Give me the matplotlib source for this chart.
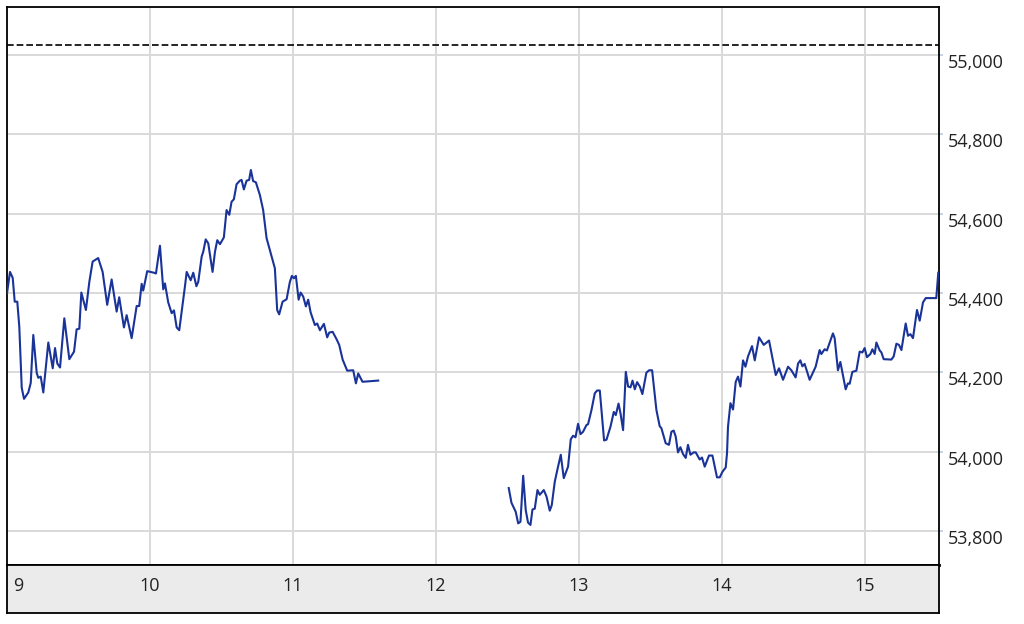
import matplotlib
matplotlib.use("Agg")
import matplotlib.pyplot as plt
from matplotlib.transforms import ScaledTranslation

plt.rcParams['font.family'] = ['Open Sans', 'DejaVu Sans']

# ---- data -------------------------------------------------------------
days1 = [9.000, 9.021, 9.040, 9.054, 9.072, 9.086, 9.103, 9.119, 9.149, 9.166,
         9.184, 9.208, 9.219, 9.236, 9.254, 9.289, 9.320, 9.336, 9.352, 9.371,
         9.401, 9.436, 9.469, 9.487, 9.506, 9.520, 9.552, 9.576, 9.599, 9.638,
         9.669, 9.701, 9.732, 9.767, 9.785, 9.818, 9.837, 9.872, 9.907, 9.925,
         9.942, 9.953, 9.981, 10.028, 10.042, 10.070, 10.093, 10.105, 10.128, 10.152,
         10.168, 10.187, 10.205, 10.245, 10.257, 10.285, 10.303, 10.325, 10.338, 10.362,
         10.373, 10.390, 10.408, 10.438, 10.455, 10.471, 10.490, 10.517, 10.536, 10.555,
         10.571, 10.587, 10.606, 10.629, 10.641, 10.657, 10.676, 10.694, 10.706, 10.722,
         10.741, 10.769, 10.792, 10.816, 10.839, 10.874, 10.890, 10.904, 10.928, 10.956,
         10.979, 10.993, 11.007, 11.021, 11.040, 11.054, 11.072, 11.091, 11.107, 11.124,
         11.154, 11.170, 11.189, 11.217, 11.240, 11.254, 11.278, 11.306, 11.324, 11.348,
         11.380, 11.422, 11.441, 11.457, 11.487, 11.597]
values1 = [54399, 54453, 54438, 54378, 54378, 54315, 54161, 54133, 54149, 54173,
           54294, 54198, 54186, 54189, 54149, 54275, 54210, 54261, 54222, 54212,
           54336, 54233, 54252, 54308, 54310, 54401, 54357, 54428, 54479, 54488,
           54453, 54370, 54434, 54353, 54389, 54313, 54344, 54286, 54367, 54367,
           54423, 54406, 54455, 54451, 54449, 54519, 54409, 54424, 54376, 54349,
           54356, 54313, 54306, 54417, 54453, 54432, 54451, 54417, 54428, 54492,
           54504, 54535, 54525, 54453, 54504, 54533, 54523, 54540, 54609, 54597,
           54630, 54636, 54674, 54683, 54685, 54661, 54683, 54685, 54710, 54682,
           54679, 54647, 54609, 54538, 54508, 54462, 54357, 54346, 54378, 54384,
           54428, 54443, 54437, 54443, 54383, 54401, 54391, 54366, 54383, 54351,
           54319, 54323, 54306, 54322, 54288, 54300, 54302, 54283, 54269, 54232,
           54204, 54205, 54172, 54197, 54176, 54179]

days2 = [12.510, 12.529, 12.559, 12.576, 12.592, 12.611, 12.629, 12.645, 12.662, 12.676,
         12.692, 12.711, 12.727, 12.755, 12.774, 12.797, 12.811, 12.832, 12.855, 12.874,
         12.895, 12.925, 12.944, 12.960, 12.977, 12.995, 13.012, 13.030, 13.054, 13.065,
         13.089, 13.112, 13.128, 13.147, 13.177, 13.194, 13.222, 13.245, 13.259, 13.278,
         13.292, 13.310, 13.329, 13.345, 13.362, 13.376, 13.392, 13.408, 13.427, 13.445,
         13.473, 13.492, 13.513, 13.543, 13.566, 13.578, 13.608, 13.631, 13.648, 13.664,
         13.678, 13.694, 13.711, 13.729, 13.748, 13.764, 13.781, 13.804, 13.818, 13.846,
         13.862, 13.881, 13.911, 13.935, 13.967, 13.986, 14.005, 14.028, 14.037, 14.044,
         14.061, 14.079, 14.098, 14.114, 14.131, 14.149, 14.166, 14.184, 14.212, 14.231,
         14.261, 14.294, 14.331, 14.378, 14.401, 14.429, 14.464, 14.487, 14.517, 14.534,
         14.550, 14.564, 14.580, 14.615, 14.657, 14.685, 14.697, 14.720, 14.736, 14.778,
         14.790, 14.813, 14.830, 14.867, 14.883, 14.895, 14.914, 14.942, 14.965, 14.984,
         15.000, 15.016, 15.040, 15.054, 15.070, 15.082, 15.105, 15.117, 15.133, 15.187,
         15.203, 15.222, 15.240, 15.257, 15.287, 15.303, 15.320, 15.338, 15.366, 15.385,
         15.408, 15.427, 15.501, 15.515]
values2 = [53908, 53871, 53848, 53819, 53823, 53939, 53852, 53821, 53815, 53854,
           53856, 53903, 53891, 53903, 53887, 53851, 53865, 53924, 53962, 53992,
           53933, 53962, 54031, 54040, 54036, 54070, 54044, 54050, 54067, 54069,
           54105, 54147, 54154, 54154, 54028, 54030, 54063, 54100, 54092, 54121,
           54096, 54054, 54201, 54164, 54162, 54179, 54157, 54175, 54164, 54145,
           54199, 54205, 54205, 54105, 54064, 54059, 54021, 54017, 54050, 54053,
           54038, 53998, 54011, 53994, 53984, 54017, 53992, 53998, 53998, 53980,
           53985, 53962, 53990, 53990, 53935, 53935, 53949, 53960, 53996, 54063,
           54122, 54106, 54176, 54189, 54164, 54230, 54214, 54240, 54266, 54230,
           54288, 54269, 54280, 54193, 54210, 54181, 54214, 54205, 54187, 54222,
           54230, 54215, 54221, 54181, 54214, 54256, 54246, 54258, 54255, 54298,
           54286, 54205, 54226, 54157, 54172, 54171, 54201, 54204, 54252, 54250,
           54261, 54238, 54246, 54258, 54246, 54275, 54255, 54250, 54233, 54232,
           54240, 54272, 54269, 54256, 54323, 54292, 54296, 54286, 54357, 54330,
           54376, 54387, 54387, 54451]

prev_close = 55025
x_ticks = [9, 10, 11, 12, 13, 14, 15]
x_labels = ["9", "10", "11", "12", "13", "14", "15"]
y_ticks = [53800, 54000, 54200, 54400, 54600, 54800, 55000]
y_labels = ["53,800", "54,000", "54,200", "54,400", "54,600", "54,800", "55,000"]

# ---- figure -----------------------------------------------------------
W, H = 1024, 624
fig = plt.figure(figsize=(W / 100, H / 100), dpi=100)
fig.patch.set_facecolor('white')

L, R, T, B = 7, 939, 7, 565
ax = fig.add_axes([L / W, 1 - B / H, (R - L) / W, (B - T) / H])
ax.set_xlim(9, 15.52)
ax.set_ylim(53714, 55121)

ax.set_xticks(x_ticks)
ax.set_yticks(y_ticks)
ax.set_yticklabels(y_labels)
ax.grid(True, color='#d9d9d9', lw=1.4, zorder=0)
ax.tick_params(axis='x', bottom=False, labelbottom=False)
ax.yaxis.tick_right()
ax.tick_params(axis='y', right=True, left=False, length=3, width=1.4,
               color='#c8d2e6', pad=3, labelsize=13, labelcolor='#222222')
for lab in ax.get_yticklabels():
    lab.set_transform(lab.get_transform() + ScaledTranslation(0, -6 / 100, fig.dpi_scale_trans))

for s in ax.spines.values():
    s.set_color('black')
    s.set_linewidth(1.3)
ax.spines['bottom'].set_linewidth(2.0)

ax.axhline(prev_close, color='black', lw=1.2, ls=(0, (4, 1.8)), zorder=2)
ax.plot(days1, values1, color='#1a3399', lw=1.5, zorder=3)
ax.plot(days2, values2, color='#1a3399', lw=1.5, zorder=3)

# ---- bottom date band -------------------------------------------------
bB = 613
ax2 = fig.add_axes([L / W, 1 - bB / H, (R - L) / W, (bB - B) / H])
ax2.set_facecolor('#ebebeb')
ax2.set_xlim(ax.get_xlim())
ax2.set_ylim(0, 1)
ax2.set_xticks([])
ax2.set_yticks([])
for s in ax2.spines.values():
    s.set_color('black')
    s.set_linewidth(1.3)
for xt, lbl in zip(x_ticks, x_labels):
    if xt == x_ticks[0]:
        ax2.text(xt, 0.57, lbl, ha='left', va='center', fontsize=13, color='#222222',
                 transform=ax2.transData + ScaledTranslation(6 / 100, 0, fig.dpi_scale_trans))
    else:
        ax2.text(xt, 0.57, lbl, ha='center', va='center', fontsize=13, color='#222222')

fig.savefig('out.png', dpi=100)
